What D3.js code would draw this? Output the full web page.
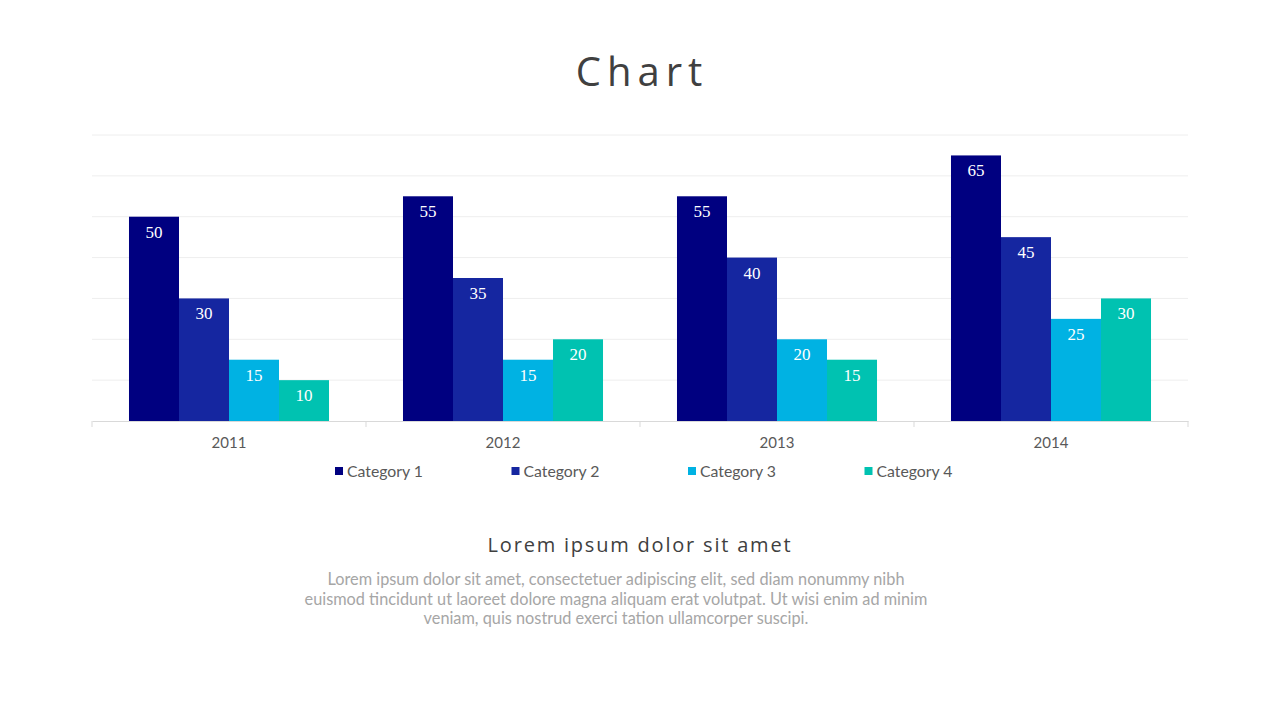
<!DOCTYPE html>
<html>
<head>
<meta charset="utf-8">
<script src="https://cdn.jsdelivr.net/npm/d3@7"></script>
<style>
  body { margin: 0; background: #fff; }
  svg { display: block; }
</style>
</head>
<body>
<svg id="chart" width="1280" height="720"></svg>
<script>
// data
var years = ["2011", "2012", "2013", "2014"];
var categories = ["Category 1", "Category 2", "Category 3", "Category 4"];
var cat1 = [50, 55, 55, 65];
var cat2 = [30, 35, 40, 45];
var cat3 = [15, 15, 20, 25];
var cat4 = [10, 20, 15, 30];
var colors = ["#000080", "#1526a0", "#00b2e3", "#00c2b1"];
var yTicks = [0, 10, 20, 30, 40, 50, 60, 70];

var series = [cat1, cat2, cat3, cat4];
var rows = years.map(function(y, i){
  return { year: y, values: series.map(function(s, j){ return { cat: categories[j], v: s[i] }; }) };
});

var svg = d3.select("#chart");
var font = "Lato, 'Open Sans', sans-serif";

var x0 = d3.scaleBand().domain(years).range([92, 1188]).padding(0);
var step = x0.bandwidth();
var inset = step * 0.135;
var x1 = d3.scaleBand().domain(categories).range([inset, step - inset]).padding(0);
var y = d3.scaleLinear().domain([0, 70]).range([421, 135]);
var color = d3.scaleOrdinal().domain(categories).range(colors);

// title
svg.append("text")
  .attr("x", 642).attr("y", 86)
  .attr("text-anchor", "middle")
  .attr("font-family", "'Open Sans', sans-serif")
  .attr("font-size", 40)
  .attr("letter-spacing", 6)
  .attr("fill", "#404040")
  .text("Chart");

// gridlines
svg.append("g")
  .selectAll("line")
  .data(yTicks.slice(1))
  .enter().append("line")
  .attr("x1", 92).attr("x2", 1188)
  .attr("y1", function(d){ return y(d); })
  .attr("y2", function(d){ return y(d); })
  .attr("stroke", "#eeeeee")
  .attr("stroke-width", 1);

// bars
var groups = svg.append("g")
  .selectAll("g")
  .data(rows)
  .enter().append("g")
  .attr("transform", function(d){ return "translate(" + x0(d.year) + ",0)"; });

groups.selectAll("rect")
  .data(function(d){ return d.values; })
  .enter().append("rect")
  .attr("x", function(d){ return x1(d.cat); })
  .attr("y", function(d){ return y(d.v); })
  .attr("width", x1.bandwidth())
  .attr("height", function(d){ return y(0) - y(d.v); })
  .attr("fill", function(d){ return color(d.cat); });

groups.selectAll("text")
  .data(function(d){ return d.values; })
  .enter().append("text")
  .attr("x", function(d){ return x1(d.cat) + x1.bandwidth() / 2; })
  .attr("y", function(d){ return y(d.v) + 21; })
  .attr("text-anchor", "middle")
  .attr("font-family", "'Liberation Serif', serif")
  .attr("font-size", 17)
  .attr("fill", "#ffffff")
  .text(function(d){ return d.v; });

// x axis
var xAxis = svg.append("g")
  .attr("transform", "translate(0," + y(0) + ")")
  .call(d3.axisBottom(x0).tickSize(0).tickPadding(16));
xAxis.select(".domain").attr("stroke", "#d9d9d9");
xAxis.selectAll("text")
  .attr("font-family", font)
  .attr("font-size", 15)
  .attr("fill", "#595959");
xAxis.selectAll(".sep")
  .data(years.concat(["end"]))
  .enter().append("line")
  .attr("class", "sep")
  .attr("x1", function(d, i){ return i < years.length ? x0(d) : x0.range()[1]; })
  .attr("x2", function(d, i){ return i < years.length ? x0(d) : x0.range()[1]; })
  .attr("y1", 0).attr("y2", 6)
  .attr("stroke", "#d9d9d9");

// legend
var legend = svg.append("g")
  .selectAll("g")
  .data(categories)
  .enter().append("g")
  .attr("transform", function(d, i){ return "translate(" + (335 + i * 176.5) + ",471)"; });
legend.append("rect")
  .attr("x", 0).attr("y", -4)
  .attr("width", 8).attr("height", 8)
  .attr("fill", function(d){ return color(d); });
legend.append("text")
  .attr("x", 12).attr("y", 5.5)
  .attr("font-family", font)
  .attr("font-size", 15.8)
  .attr("fill", "#595959")
  .text(function(d){ return d; });

// caption
svg.append("text")
  .attr("x", 640).attr("y", 552)
  .attr("text-anchor", "middle")
  .attr("font-family", "'Open Sans', sans-serif")
  .attr("font-size", 20)
  .attr("letter-spacing", 1.8)
  .attr("fill", "#404040")
  .text("Lorem ipsum dolor sit amet");

var body = [
  "Lorem ipsum dolor sit amet, consectetuer adipiscing elit, sed diam nonummy nibh",
  "euismod tincidunt ut laoreet dolore magna aliquam erat volutpat. Ut wisi enim ad minim",
  "veniam, quis nostrud exerci tation ullamcorper suscipi."
];
svg.append("g")
  .selectAll("text")
  .data(body)
  .enter().append("text")
  .attr("x", 616)
  .attr("y", function(d, i){ return 585 + i * 19.5; })
  .attr("text-anchor", "middle")
  .attr("font-family", font)
  .attr("font-size", 16.3)
  .attr("fill", "#a6a6a6")
  .text(function(d){ return d; });
</script>
</body>
</html>
